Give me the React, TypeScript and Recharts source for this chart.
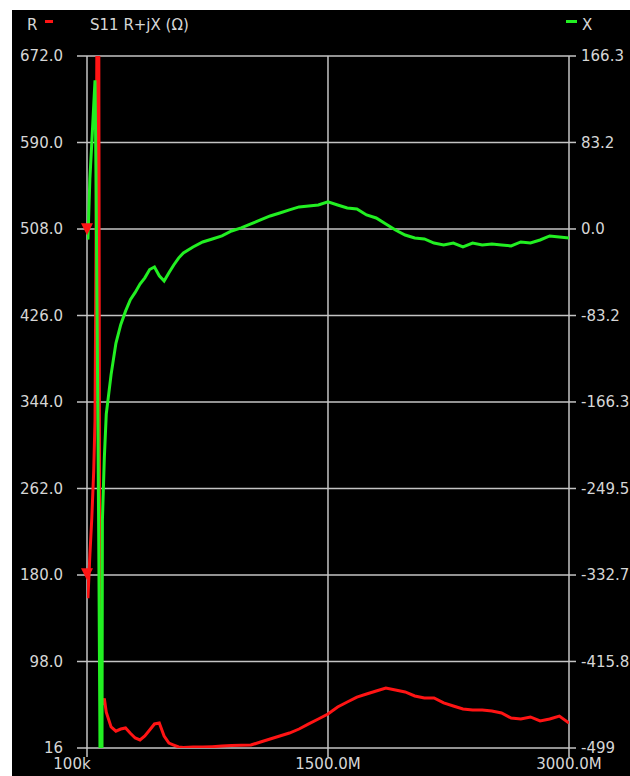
import { LineChart, Line, XAxis, YAxis, CartesianGrid, ReferenceDot } from 'recharts';

// sweep frequencies in MHz (denser around the low-frequency resonance)
const freqs = [
  0.1, 6, 18, 30, 42, 50, 56, 62, 68, 74, 80, 90, 96, 108, 120,
  150, 180, 210, 240, 270, 300, 330, 360, 390, 420, 450, 480, 510, 540, 570, 600,
  660, 720, 780, 840, 900, 960, 1020, 1080, 1140, 1200, 1260, 1320, 1380, 1440, 1500,
  1560, 1620, 1680, 1740, 1800, 1860, 1920, 1980, 2040, 2100, 2160, 2220, 2280, 2340,
  2400, 2460, 2520, 2580, 2640, 2700, 2760, 2820, 2880, 2940, 3000,
];

// R (ohm), left axis
const rValues = [
  175, 158, 199, 234, 279, 327, 488, 700, 1500, 640, 98, 62, 57, 63, 50,
  36, 32, 34, 35, 30, 25.5, 23.6, 27.4, 33, 38.8, 39.7, 27.4, 20.7, 18.8, 17, 16.5,
  17, 17, 17.3, 17.8, 18.3, 18.6, 18.8, 21.7, 24.5, 27.4, 30.2, 34, 38.8, 43.5, 48.2,
  54.9, 59.6, 64.3, 67.2, 70, 72.9, 71, 69.1, 65.3, 63.4, 63.4, 58.7, 55.8, 53,
  52, 52, 51.1, 49.2, 44.4, 43.5, 45.4, 41.6, 43.5, 46.3, 39.7,
];

// X (ohm), right axis
const xValues = [
  -6, -10, 48, 83, 119, 143, 57, -68, -184, -319, -472, -800, -280, -220, -178,
  -140, -110, -92, -79, -68, -61, -53, -47, -39, -36.5, -45, -50, -42, -34.6, -28, -23,
  -17.3, -12.5, -9.6, -6.7, -1.9, 1, 4.8, 8.7, 12.5, 15.4, 18.3, 21.2, 22.1, 23, 26,
  23, 20.2, 19.2, 13.5, 10.6, 4.8, -1, -5.8, -8.7, -9.6, -13.5, -15.4, -13.5, -17.3,
  -13.5, -15.4, -14.4, -15.4, -16.3, -12.5, -13.5, -10.6, -6.7, -7.7, -8.7,
];

const freqTicks = [0.1, 1500, 3000];
const freqTickLabels = ['100k', '1500.0M', '3000.0M'];
const rTicks = [16, 98, 180, 262, 344, 426, 508, 590, 672];
const rTickLabels = ['16', '98.0', '180.0', '262.0', '344.0', '426.0', '508.0', '590.0', '672.0'];
const xTicks = [-499, -415.8, -332.7, -249.5, -166.3, -83.2, 0, 83.2, 166.3];
const xTickLabels = ['-499', '-415.8', '-332.7', '-249.5', '-166.3', '-83.2', '0.0', '83.2', '166.3'];

const data = freqs.map((f, i) => ({ f, r: rValues[i], x: xValues[i] }));

const GRID = '#c4c4c4';
const TEXT = '#d6d6d6';
const RED = '#ff1414';
const GREEN = '#22f022';
const FONT = 'DejaVu Sans';

const Marker = (props: any) => {
  const { cx, cy } = props;
  return <path d={`M${cx - 6},${cy - 12}L${cx + 6},${cy - 12}L${cx},${cy}Z`} fill={RED} />;
};

const FreqTick = (props: any) => {
  const { x, y, payload, index } = props;
  const label = freqTickLabels[freqTicks.indexOf(payload.value)];
  return (
    <text x={x + (index === 0 ? -15 : 0)} y={y} dy="0.71em" textAnchor="middle" fill={TEXT} fontSize={15} fontFamily={FONT}>
      {label}
    </text>
  );
};

export default function App() {
  return (
    <div style={{ position: 'absolute', left: 12, top: 10, width: 618, height: 766, background: '#000' }}>
      <svg width={618} height={40} style={{ position: 'absolute', left: 0, top: 0 }}>
        <text x={15} y={20} fill={TEXT} fontSize={15} fontFamily={FONT}>R</text>
        <rect x={33} y={10} width={8} height={3} fill={RED} />
        <text x={78} y={20} fill={TEXT} fontSize={15} fontFamily={FONT}>S11 R+jX (Ω)</text>
        <rect x={554} y={10} width={11} height={3} fill={GREEN} />
        <text x={570} y={20} fill={TEXT} fontSize={15} fontFamily={FONT}>X</text>
      </svg>
      <LineChart width={618} height={766} data={data} margin={{ top: 46, right: 0, bottom: 0, left: 0 }}>
        <CartesianGrid xAxisId="main" yAxisId="left" stroke={GRID} strokeWidth={1.5} />
        <XAxis
          xAxisId="main"
          dataKey="f"
          type="number"
          domain={[0.1, 3000]}
          ticks={freqTicks}
          height={28}
          axisLine={false}
          tickSize={9}
          tickMargin={1}
          tickLine={{ stroke: GRID, strokeWidth: 1.5 }}
          tick={<FreqTick />}
          allowDataOverflow
        />
        <XAxis
          xAxisId="top"
          orientation="top"
          dataKey="f"
          type="number"
          domain={[0.1, 3000]}
          ticks={freqTicks}
          height={0}
          axisLine={false}
          tickSize={9}
          tickLine={{ stroke: GRID, strokeWidth: 1.5 }}
          tick={() => <g />}
        />
        <YAxis
          yAxisId="left"
          domain={[16, 672]}
          ticks={rTicks}
          width={75}
          axisLine={false}
          tickSize={10}
          tickMargin={14}
          tickLine={{ stroke: GRID, strokeWidth: 1.5 }}
          tick={{ fill: TEXT, fontSize: 15, fontFamily: FONT }}
          tickFormatter={(v: number) => rTickLabels[rTicks.indexOf(v)]}
          allowDataOverflow
        />
        <YAxis
          yAxisId="right"
          orientation="right"
          domain={[-499, 166.3]}
          ticks={xTicks}
          width={61}
          axisLine={false}
          tickSize={7}
          tickMargin={5}
          tickLine={{ stroke: GRID, strokeWidth: 1.5 }}
          tick={{ fill: TEXT, fontSize: 15, fontFamily: FONT, textAnchor: 'start' }}
          tickFormatter={(v: number) => xTickLabels[xTicks.indexOf(v)]}
          allowDataOverflow
        />
        <Line
          xAxisId="main"
          yAxisId="left"
          type="linear"
          dataKey="r"
          stroke={RED}
          strokeWidth={3}
          dot={false}
          isAnimationActive={false}
        />
        <Line
          xAxisId="main"
          yAxisId="right"
          type="linear"
          dataKey="x"
          stroke={GREEN}
          strokeWidth={3}
          dot={false}
          isAnimationActive={false}
        />
        <ReferenceDot xAxisId="main" yAxisId="left" x={freqs[0]} y={rValues[0]} ifOverflow="visible" shape={Marker} />
        <ReferenceDot xAxisId="main" yAxisId="right" x={freqs[0]} y={xValues[0]} ifOverflow="visible" shape={Marker} />
      </LineChart>
    </div>
  );
}
